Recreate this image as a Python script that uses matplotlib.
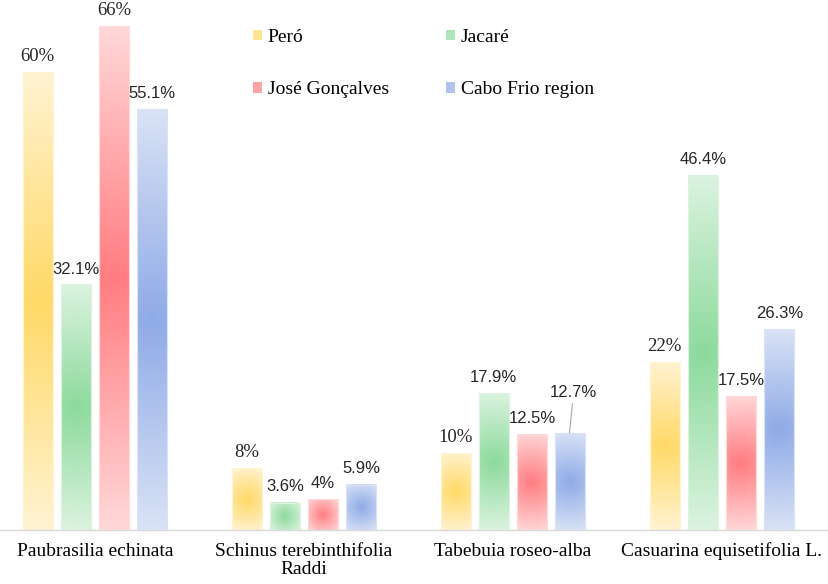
import numpy as np
import matplotlib
matplotlib.use("Agg")
import matplotlib.pyplot as plt
from matplotlib.patches import Patch, Rectangle
from matplotlib.colors import to_rgb

categories = ["Paubrasilia echinata", "Schinus terebinthifolia\nRaddi",
              "Tabebuia roseo-alba", "Casuarina equisetifolia L."]
series_names = ["Peró", "Jacaré", "José Gonçalves", "Cabo Frio region"]
pero = [60, 8, 10, 22]
jacare = [32.1, 3.6, 17.9, 46.4]
jose = [66, 4, 12.5, 17.5]
cabo = [55.1, 5.9, 12.7, 26.3]
value_labels = [["60%", "8%", "10%", "22%"],
                ["32.1%", "3.6%", "17.9%", "46.4%"],
                ["66%", "4%", "12.5%", "17.5%"],
                ["55.1%", "5.9%", "12.7%", "26.3%"]]
serif_labels = {"60%", "66%", "8%", "10%", "22%"}

series = [pero, jacare, jose, cabo]
center_colors = ["#FFD966", "#8CDA9C", "#FF7C80", "#8EAAE6"]
edge_colors = ["#FFF3D2", "#DCF3E0", "#FFD8D9", "#DAE3F6"]

W, H, DPI = 829, 584, 100
fig = plt.figure(figsize=(W / DPI, H / DPI), dpi=DPI)
ax = fig.add_axes([0, 54 / H, 827 / W, (H - 54) / H])
px_per_unit_x = 209.0
px_per_val = 7.633

bar_w = 30 / px_per_unit_x
step = 38.3 / px_per_unit_x
offsets = [(-1.5 + i) * step for i in range(4)]

def gradient_img(c0, c1, h_px, w_px, ny=200, nx=40):
    ys = np.linspace(-1, 1, ny)[:, None] * h_px / 2
    xs = np.linspace(-1, 1, nx)[None, :] * w_px / 2
    r = np.sqrt(xs ** 2 + ys ** 2) / np.sqrt((h_px / 2) ** 2 + (w_px / 2) ** 2)
    t = np.clip(r, 0, 1)[..., None]
    a = np.array(to_rgb(c0))[None, None, :]
    b = np.array(to_rgb(c1))[None, None, :]
    return a * (1 - t) + b * t

xs_cat = np.arange(len(categories))
for si, vals in enumerate(series):
    for ci, v in enumerate(vals):
        x0 = xs_cat[ci] + offsets[si] - bar_w / 2
        img = gradient_img(center_colors[si], edge_colors[si], v * px_per_val, 30)
        ax.imshow(img, extent=[x0, x0 + bar_w, 0, v], aspect="auto",
                  interpolation="bilinear", zorder=2, origin="lower")
        ax.add_patch(Rectangle((x0, 0), bar_w, v, fill=False,
                               edgecolor=edge_colors[si], lw=0.8, zorder=3))
        lab = value_labels[si][ci]
        if lab in serif_labels:
            fam, fs = "Liberation Serif", 13.5
        else:
            fam, fs = "Liberation Sans", 12.0
        xc = xs_cat[ci] + offsets[si]
        if lab == "12.7%":
            ax.annotate(lab, xy=(xc - 1 / px_per_unit_x, v), xytext=(3, 29.5),
                        textcoords="offset points", ha="center", va="center",
                        fontsize=fs, family=fam, color="#262626", zorder=4,
                        arrowprops=dict(arrowstyle="-", color="#A6A6A6", lw=0.8,
                                        shrinkA=1, shrinkB=0))
        else:
            ax.annotate(lab, xy=(xc, v), xytext=(0, 11.5),
                        textcoords="offset points", ha="center", va="center",
                        fontsize=fs, family=fam, color="#262626", zorder=4)

ax.set_xlim(-95 / px_per_unit_x, (827 - 95) / px_per_unit_x)
ax.set_ylim(0, 530 / px_per_val)
for s in ["top", "right", "left"]:
    ax.spines[s].set_visible(False)
ax.spines["bottom"].set_color("#D9D9D9")
ax.spines["bottom"].set_linewidth(1.0)
ax.spines["bottom"].set_zorder(5)
ax.set_yticks([])
ax.set_xticks(xs_cat)
ax.set_xticklabels(categories, fontsize=14, family="Liberation Serif",
                   color="black", linespacing=1.1)
ax.tick_params(axis="x", length=0, pad=9)

handles = [Patch(facecolor=center_colors[i], edgecolor="none", alpha=0.7)
           for i in range(4)]
order = [0, 2, 1, 3]
leg = ax.legend([handles[i] for i in order], [series_names[i] for i in order],
                ncol=2, loc="upper left",
                bbox_to_anchor=(253 / W, 1 - 29 / H), bbox_transform=fig.transFigure,
                frameon=False, borderpad=0, borderaxespad=0,
                prop={"family": "Liberation Serif", "size": 14},
                handlelength=0.46, handleheight=0.46, handletextpad=0.3,
                columnspacing=2.95, labelspacing=1.81)

fig.savefig("out.png", dpi=DPI)
